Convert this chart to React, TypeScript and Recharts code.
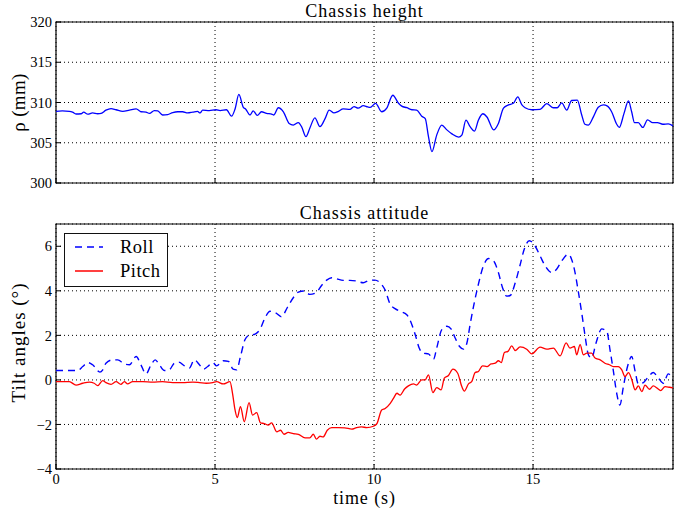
import React from 'react';
import { LineChart, Line, XAxis, YAxis, CartesianGrid, ReferenceArea, Legend, Label } from 'recharts';

const FONT = 'serif';

// Axis settings
const timeTicks = [0, 5, 10, 15];
const timeDomain: [number, number] = [0, 19.4];
const heightTicks = [300, 305, 310, 315, 320];
const heightDomain: [number, number] = [300, 320];
const tiltTicks = [-4, -2, 0, 2, 4, 6];
const tiltDomain: [number, number] = [-4, 7];
const legendOrder = ['Roll', 'Pitch'];

// Chassis height (mm)
const heightTime = [
  0, 0.2, 0.42, 0.52, 0.63, 0.79, 0.87, 1.0, 1.15, 1.31, 1.42, 1.57, 1.73, 1.89, 2.1, 2.31, 2.52, 2.67, 2.83, 2.94,
  3.09, 3.2, 3.35, 3.51, 3.67, 3.83, 3.98, 4.14, 4.3, 4.45, 4.53, 4.61, 4.82, 5.03, 5.16, 5.36, 5.52, 5.63, 5.75, 5.89,
  5.96, 6.1, 6.2, 6.33, 6.46, 6.62, 6.78, 6.85, 6.99, 7.15, 7.33, 7.46, 7.62, 7.72, 7.86, 7.98, 8.14, 8.3, 8.46, 8.59,
  8.74, 8.88, 9.03, 9.24, 9.37, 9.5, 9.66, 9.8, 9.88, 10.05, 10.24, 10.4, 10.59, 10.77, 10.87, 11.03, 11.19, 11.34, 11.5, 11.61,
  11.71, 11.82, 11.97, 12.13, 12.29, 12.45, 12.66, 12.76, 12.89, 13.02, 13.16, 13.28, 13.42, 13.55, 13.76, 13.91, 14.07, 14.23, 14.38, 14.52,
  14.65, 14.75, 14.96, 15.22, 15.43, 15.64, 15.76, 15.9, 16.06, 16.21, 16.39, 16.53, 16.63, 16.74, 16.9, 17.05, 17.21, 17.34, 17.47, 17.63,
  17.71, 17.86, 18.0, 18.1, 18.19, 18.31, 18.45, 18.6, 18.76, 18.91, 19.08, 19.25, 19.4,
];
const heightMm = [
  308.9, 308.95, 308.9, 308.8, 308.57, 308.6, 308.8, 308.55, 308.7, 308.6, 308.65, 309.05, 309.25, 309.1, 308.9, 309.05, 309.2, 308.85, 308.8, 308.65,
  309.0, 308.95, 308.45, 308.5, 308.75, 308.85, 308.85, 308.7, 308.8, 308.9, 308.7, 309.05, 309.0, 309.1, 309.0, 309.1, 308.3, 309.2, 311.0, 309.4,
  309.2, 308.45, 308.95, 308.4, 308.85, 308.65, 308.57, 308.45, 309.35, 308.85, 307.4, 307.2, 307.5, 307.0, 305.75, 306.8, 308.1, 307.0, 308.0, 309.05,
  308.7, 308.9, 309.2, 309.15, 309.5, 309.3, 309.6, 309.45, 309.4, 309.9, 308.85, 309.3, 310.9, 309.9, 309.55, 309.35, 309.1, 309.05, 308.3, 308.0,
  305.8, 303.9, 305.95, 307.2, 306.6, 306.1, 305.7, 305.95, 307.8, 307.0, 306.45, 307.8, 308.6, 308.2, 306.6, 307.4, 309.3, 309.7, 309.9, 310.7,
  309.7, 309.35, 309.1, 309.15, 309.85, 309.35, 309.35, 309.95, 309.05, 310.25, 310.3, 308.45, 307.3, 307.2, 308.25, 309.4, 309.7, 309.55, 308.85, 307.3,
  306.9, 308.65, 310.2, 308.85, 307.5, 307.5, 306.9, 307.85, 307.5, 307.5, 307.3, 307.35, 307.1,
];

// Roll (deg)
const rollTime = [
  0, 0.68, 0.84, 1.0, 1.15, 1.38, 1.47, 1.57, 1.78, 1.94, 2.15, 2.31, 2.52, 2.67, 2.83, 2.99, 3.12, 3.25, 3.41, 3.56,
  3.72, 3.86, 4.04, 4.19, 4.35, 4.51, 4.63, 4.77, 4.93, 5.05, 5.26, 5.42, 5.57, 5.68, 5.8, 5.94, 6.05, 6.26, 6.41, 6.57,
  6.73, 6.92, 7.09, 7.27, 7.46, 7.62, 7.8, 7.98, 8.17, 8.35, 8.51, 8.67, 8.82, 9.03, 9.24, 9.45, 9.66, 9.87, 10.03, 10.19,
  10.35, 10.51, 10.66, 10.82, 11.03, 11.19, 11.31, 11.42, 11.55, 11.71, 11.87, 11.97, 12.13, 12.29, 12.42, 12.55, 12.69, 12.81, 12.92, 13.02,
  13.13, 13.28, 13.44, 13.6, 13.76, 13.91, 14.04, 14.17, 14.28, 14.44, 14.59, 14.73, 14.88, 15.06, 15.22, 15.38, 15.59, 15.74, 15.9, 16.11,
  16.21, 16.32, 16.42, 16.53, 16.63, 16.74, 16.84, 16.98, 17.16, 17.32, 17.42, 17.52, 17.63, 17.73, 17.84, 17.97, 18.1, 18.21, 18.31, 18.47,
  18.63, 18.78, 18.94, 19.1, 19.25, 19.4,
];
const rollDeg = [
  0.42, 0.42, 0.6, 0.78, 0.68, 0.35, 0.45, 0.75, 0.9, 0.9, 0.72, 0.68, 1.05, 0.68, 0.27, 0.68, 0.9, 0.68, 0.42, 0.45,
  0.75, 0.8, 0.63, 0.53, 0.9, 0.68, 0.48, 0.6, 0.78, 0.63, 0.86, 0.83, 0.48, 0.45, 1.05, 1.8, 1.99, 2.06, 2.26, 2.78,
  3.08, 3.0, 2.83, 3.24, 3.69, 3.94, 3.99, 3.84, 3.91, 4.24, 4.48, 4.59, 4.54, 4.47, 4.47, 4.44, 4.36, 4.48, 4.48, 4.36,
  4.03, 3.39, 3.2, 3.08, 2.93, 2.48, 1.96, 1.43, 1.2, 1.17, 0.93, 1.43, 2.26, 2.41, 2.29, 1.88, 1.5, 1.38, 1.66, 2.48,
  3.31, 4.29, 5.12, 5.45, 5.34, 4.82, 4.14, 3.76, 3.79, 4.36, 5.15, 5.9, 6.25, 6.02, 5.57, 5.12, 4.82, 4.97, 5.34, 5.64,
  5.42, 4.82, 3.99, 3.01, 2.03, 1.13, 0.98, 1.66, 2.29, 2.18, 1.35, 0.45, -0.6, -1.13, -0.3, 0.6, 1.05, 0.38, -0.18, -0.12,
  0.15, 0.33, 0.08, -0.15, 0.27, 0.05,
];

// Pitch (deg)
const pitchTime = [
  0, 0.42, 0.63, 0.84, 1.05, 1.2, 1.31, 1.47, 1.57, 1.73, 1.89, 2.04, 2.15, 2.25, 2.41, 2.73, 3.04, 3.35, 3.67, 3.98,
  4.3, 4.51, 4.72, 4.93, 5.05, 5.26, 5.47, 5.55, 5.63, 5.7, 5.8, 5.92, 6.07, 6.18, 6.31, 6.43, 6.55, 6.67, 6.78, 6.94,
  7.06, 7.17, 7.3, 7.46, 7.62, 7.83, 7.98, 8.09, 8.19, 8.3, 8.4, 8.53, 8.67, 8.88, 9.08, 9.3, 9.45, 9.61, 9.77, 9.98,
  10.09, 10.24, 10.35, 10.51, 10.61, 10.72, 10.82, 10.96, 11.08, 11.24, 11.34, 11.5, 11.61, 11.71, 11.85, 11.97, 12.11, 12.21, 12.34, 12.48,
  12.63, 12.76, 12.84, 12.97, 13.07, 13.18, 13.28, 13.41, 13.55, 13.68, 13.81, 13.91, 14.0, 14.1, 14.21, 14.33, 14.44, 14.59, 14.8, 14.96,
  15.22, 15.43, 15.64, 15.85, 16.04, 16.16, 16.3, 16.37, 16.48, 16.58, 16.69, 16.84, 16.95, 17.11, 17.26, 17.4, 17.52, 17.68, 17.79, 17.89,
  18.0, 18.1, 18.21, 18.31, 18.42, 18.52, 18.66, 18.78, 18.91, 19.01, 19.15, 19.29, 19.4,
];
const pitchDeg = [
  -0.08, -0.08, -0.23, -0.15, -0.1, -0.15, -0.26, -0.03, -0.12, -0.2, -0.08, -0.2, -0.08, -0.18, -0.08, -0.08, -0.1, -0.08, -0.12, -0.12,
  -0.1, -0.12, -0.15, -0.12, -0.08, -0.18, -0.08, -0.6, -1.35, -1.69, -1.2, -1.88, -1.02, -1.58, -1.47, -1.93, -1.96, -2.03, -1.93, -2.33,
  -2.26, -2.44, -2.36, -2.41, -2.44, -2.6, -2.6, -2.44, -2.66, -2.53, -2.56, -2.26, -2.14, -2.14, -2.15, -2.21, -2.14, -2.11, -2.14, -2.08,
  -1.96, -1.35, -1.28, -1.05, -0.83, -0.6, -0.68, -0.41, -0.27, -0.18, -0.23, 0.0, 0.0, 0.23, -0.57, -0.35, -0.45, 0.08, 0.2, 0.48,
  0.3, -0.3, -0.5, -0.18, -0.08, 0.33, 0.38, 0.63, 0.6, 0.72, 0.75, 0.86, 0.78, 1.23, 1.28, 1.53, 1.32, 1.48, 1.38, 1.17,
  1.47, 1.38, 1.43, 1.08, 1.66, 1.43, 1.5, 1.13, 1.58, 1.13, 1.2, 1.2, 0.98, 0.9, 0.75, 0.68, 0.6, 0.6, 0.45, 0.15,
  0.33, 0.03, -0.45, -0.27, -0.53, -0.23, -0.42, -0.27, -0.38, -0.48, -0.3, -0.33, -0.36,
];

const heightData = heightTime.map((t, i) => ({ t, v: heightMm[i] }));
const rollData = rollTime.map((t, i) => ({ t, v: rollDeg[i] }));
const pitchData = pitchTime.map((t, i) => ({ t, v: pitchDeg[i] }));

const ROLL_DASH = '7 5';
const legendDash: Record<string, string | undefined> = { Roll: ROLL_DASH, Pitch: undefined };

const fmt = (v: number) => (v < 0 ? '\u2212' + Math.abs(v) : String(v));

const TICK_LEN = 5;
const Y_MARGIN = 4;
const X_MARGIN = 4;
const TICK_FONT = 14.5;

function LeftTick(props: any) {
  const { x, y, payload } = props;
  return (
    <g>
      <line x1={x + Y_MARGIN} x2={x + Y_MARGIN + TICK_LEN} y1={y} y2={y} stroke="#000" />
      <text x={x} y={y} dy="0.36em" textAnchor="end" fontFamily={FONT} fontSize={TICK_FONT} fill="#000">
        {fmt(payload.value)}
      </text>
    </g>
  );
}

function BottomTick(props: any) {
  const { x, y, payload, showLabel } = props;
  return (
    <g>
      <line x1={x} x2={x} y1={y - (showLabel ? X_MARGIN : 0)} y2={y - (showLabel ? X_MARGIN : 0) - TICK_LEN} stroke="#000" />
      {showLabel ? (
        <text x={x} y={y} dy="0.75em" textAnchor="middle" fontFamily={FONT} fontSize={TICK_FONT} fill="#000">
          {fmt(payload.value)}
        </text>
      ) : null}
    </g>
  );
}

function YLabelContent(text: string, shift: number, size: number, spacing: number) {
  return (p: any) => {
    const vb = p.viewBox || { x: 0, y: 0, width: 56, height: 100 };
    const cx = vb.x + 18;
    const cy = vb.y + vb.height / 2 + shift;
    return (
      <text x={cx} y={cy} transform={`rotate(-90 ${cx} ${cy})`} textAnchor="middle" dominantBaseline="central"
        fontFamily={FONT} fontSize={size} letterSpacing={spacing} fill="#000">
        {text}
      </text>
    );
  };
}

function XLabelContent(p: any) {
  const vb = p.viewBox || { x: 56, y: 269, width: 617, height: 44 };
  return (
    <text x={vb.x + vb.width / 2} y={vb.y + 35} textAnchor="middle" fontFamily={FONT} fontSize={18} letterSpacing={0.9} fill="#000">
      time (s)
    </text>
  );
}

function renderLegend(props: any) {
  const payload = [...(props.payload || [])].sort(
    (a: any, b: any) => legendOrder.indexOf(a.value) - legendOrder.indexOf(b.value)
  );
  return (
    <div style={{ width: 102, height: 52, border: '1px solid #111', background: '#fff', position: 'relative', fontFamily: FONT, fontSize: 18.5 }}>
      {payload.map((entry: any, i: number) => (
        <div key={entry.value} style={{ position: 'absolute', left: 10, top: 3 + i * 24, height: 20, display: 'flex', alignItems: 'center' }}>
          <svg width={28} height={20} style={{ display: 'block' }}>
            <line x1={0} x2={28} y1={10} y2={10} stroke={entry.color} strokeWidth={1.5} strokeDasharray={legendDash[entry.value]} />
          </svg>
          <span style={{ marginLeft: 17, lineHeight: '20px', letterSpacing: 0.5 }}>{entry.value}</span>
        </div>
      ))}
    </div>
  );
}

const titleStyle: React.CSSProperties = {
  position: 'absolute', left: 56, width: 617, textAlign: 'center', fontFamily: FONT, fontSize: 18,
  lineHeight: '18px', letterSpacing: 1, color: '#000',
};

export default function App() {
  return (
    <div style={{ position: 'absolute', left: 0, top: 0, width: 674, height: 513, background: '#fff', overflow: 'hidden' }}>
      <div style={{ position: 'absolute', left: 0, top: 0 }}>
        <LineChart width={674} height={200} margin={{ top: 22, right: 1, bottom: 0, left: 0 }}>
          <CartesianGrid stroke="#000" strokeDasharray="1 3" strokeWidth={1} />
          <XAxis dataKey="t" type="number" domain={timeDomain} ticks={timeTicks} allowDataOverflow height={17}
            axisLine={false} tickLine={false} tickSize={0} tickMargin={0} tick={<BottomTick showLabel={false} />} />
          <YAxis type="number" domain={heightDomain} ticks={heightTicks} allowDataOverflow width={56}
            axisLine={false} tickLine={false} tickSize={0} tickMargin={Y_MARGIN} tick={<LeftTick />}>
            <Label content={YLabelContent('ρ (mm)', 0, 19, 0.3)} />
          </YAxis>
          <ReferenceArea x1={timeDomain[0]} x2={timeDomain[1]} y1={heightDomain[0]} y2={heightDomain[1]} fill="none" fillOpacity={0} stroke="#000" strokeWidth={1.2} ifOverflow="visible" />
          <Line data={heightData} dataKey="v" type="monotone" stroke="#0000ff" strokeWidth={1.3} dot={false} isAnimationActive={false} />
        </LineChart>
      </div>
      <div style={{ ...titleStyle, top: 2 }}>Chassis height</div>

      <div style={{ position: 'absolute', left: 0, top: 200 }}>
        <LineChart width={674} height={313} margin={{ top: 24, right: 1, bottom: 0, left: 0 }}>
          <CartesianGrid stroke="#000" strokeDasharray="1 3" strokeWidth={1} />
          <XAxis dataKey="t" type="number" domain={timeDomain} ticks={timeTicks} allowDataOverflow height={44}
            axisLine={false} tickLine={false} tickSize={0} tickMargin={X_MARGIN} tick={<BottomTick showLabel />}>
            <Label content={XLabelContent} />
          </XAxis>
          <YAxis type="number" domain={tiltDomain} ticks={tiltTicks} allowDataOverflow width={56}
            axisLine={false} tickLine={false} tickSize={0} tickMargin={Y_MARGIN} tick={<LeftTick />}>
            <Label content={YLabelContent('Tilt angles (°)', -4, 19, 1)} />
          </YAxis>
          <ReferenceArea x1={timeDomain[0]} x2={timeDomain[1]} y1={tiltDomain[0]} y2={tiltDomain[1]} fill="none" fillOpacity={0} stroke="#000" strokeWidth={1.2} ifOverflow="visible" />
          <Line data={rollData} name="Roll" dataKey="v" type="monotone" stroke="#0000ff" strokeWidth={1.4} strokeDasharray={ROLL_DASH} dot={false} isAnimationActive={false} />
          <Line data={pitchData} name="Pitch" dataKey="v" type="monotone" stroke="#ff0000" strokeWidth={1.3} dot={false} isAnimationActive={false} />
          <Legend layout="vertical" align="center" verticalAlign="middle" content={renderLegend}
            wrapperStyle={{ left: 64, top: 33, width: 104, height: 54, right: 'auto', bottom: 'auto' }} />
        </LineChart>
      </div>
      <div style={{ ...titleStyle, top: 204 }}>Chassis attitude</div>
    </div>
  );
}
